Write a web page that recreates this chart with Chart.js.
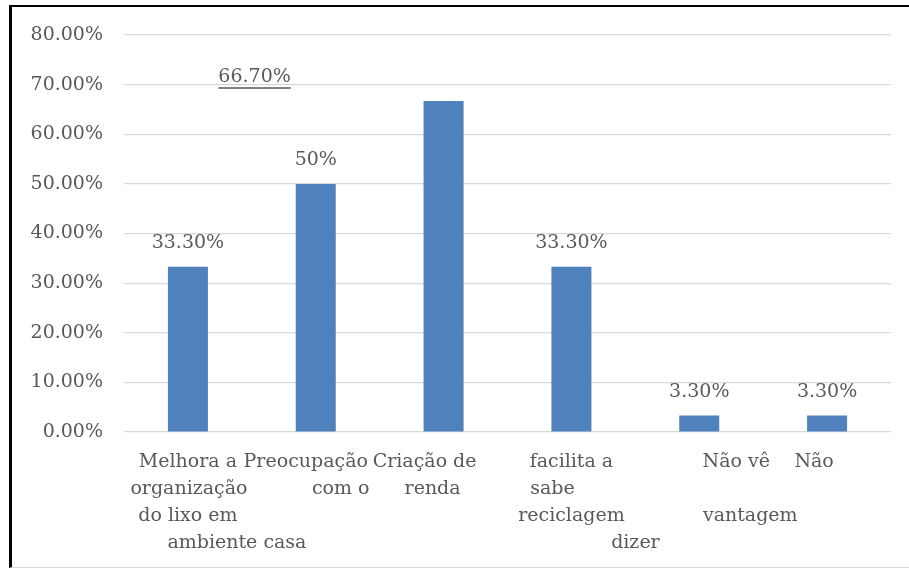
<!DOCTYPE html>
<html>
<head>
<meta charset="utf-8">
<script src="https://cdn.jsdelivr.net/npm/chart.js@4.4.1/dist/chart.umd.min.js"></script>
<style>
  html, body { margin: 0; padding: 0; background: #ffffff; }
  #wrap { position: relative; width: 909px; height: 568px; overflow: hidden; }
  #chart { position: absolute; left: 0; top: 0; }
  #frame { position: absolute; left: 9px; top: 5px; width: 920px; height: 560px;
           border-top: 2px solid #000; border-left: 3px solid #000; border-bottom: 1px solid #d9d9d9;
           pointer-events: none; }
</style>
</head>
<body>
<div id="wrap">
  <canvas id="chart" width="909" height="568"></canvas>
  <div id="frame"></div>
</div>
<script>
// ---- data ----
const categories = [
  "Melhora a organização do lixo em casa",
  "Preocupação com o ambiente",
  "Criação de renda",
  "facilita a reciclagem",
  "Não vê vantagem",
  "Não sabe dizer"
];
const values = [33.3, 50, 66.7, 33.3, 3.3, 3.3];
const valueLabels = ["33.30%", "50%", "66.70%", "33.30%", "3.30%", "3.30%"];
const tickLabelLines = [
  ["Melhora a", "organização", "do lixo em", "ambiente casa"],
  ["Preocupação", "com o"],
  ["Criação de", "renda"],
  ["facilita a", "sabe", "reciclagem", "dizer"],
  ["Não vê", "", "vantagem"],
  ["Não"]
];
const yMin = 0, yMax = 80, yStep = 10;

// ---- styles (offsets in px, relative to each category centre) ----
const FONT = "'DejaVu Serif', serif";
const TEXT = "#595959";
const tickLabelShift = [[0, 1, 0, 49], [-10, 25], [-19, -11], [0, -19, 0, 64], [37, 0, 51], [-13]];
const valueLabelShift = [0, 0, -189, 0, 0, 0];
const valueLabelUnderline = [false, false, true, false, false, false];

const labelPlugin = {
  id: 'labels',
  afterDatasetsDraw(chart) {
    const ctx = chart.ctx;
    const meta = chart.getDatasetMeta(0);
    ctx.save();
    ctx.font = "19px " + FONT;
    ctx.fillStyle = TEXT;
    ctx.textAlign = "center";
    ctx.textBaseline = "middle";
    meta.data.forEach((bar, i) => {
      const x = bar.x + valueLabelShift[i];
      const y = bar.y - 24;
      ctx.fillText(valueLabels[i], x, y);
      if (valueLabelUnderline[i]) {
        const w = ctx.measureText(valueLabels[i]).width;
        ctx.strokeStyle = TEXT;
        ctx.lineWidth = 1.5;
        ctx.beginPath();
        ctx.moveTo(x - w / 2, y + 11);
        ctx.lineTo(x + w / 2, y + 11);
        ctx.stroke();
      }
    });
    // category labels
    const xs = chart.scales.x;
    const base = chart.chartArea.bottom + 30;
    tickLabelLines.forEach((lines, i) => {
      const cx = xs.getPixelForValue(i);
      lines.forEach((t, j) => {
        if (!t) return;
        ctx.fillText(t, cx + tickLabelShift[i][j], base + j * 27);
      });
    });
    ctx.restore();
  }
};

new Chart(document.getElementById('chart'), {
  type: 'bar',
  data: {
    labels: categories,
    datasets: [{
      data: values,
      backgroundColor: '#4F81BD',
      borderWidth: 0,
      barPercentage: 0.313,
      categoryPercentage: 1.0
    }]
  },
  options: {
    responsive: false,
    animation: false,
    devicePixelRatio: 1,
    layout: { padding: { left: 0, top: 35, right: 18, bottom: 136 } },
    plugins: { legend: { display: false }, tooltip: { enabled: false } },
    scales: {
      x: {
        ticks: { display: false },
        grid: { display: false },
        border: { display: false },
        afterFit(s) { s.height = 0; }
      },
      y: {
        min: yMin, max: yMax,
        ticks: {
          stepSize: yStep,
          padding: 21,
          color: TEXT,
          font: { family: FONT, size: 19 },
          callback: v => v.toFixed(2) + '%'
        },
        grid: { color: '#D9D9D9', lineWidth: 1.2, drawTicks: false },
        border: { display: false },
        afterFit(s) { s.width = 124; }
      }
    }
  },
  plugins: [labelPlugin]
});
</script>
</body>
</html>
